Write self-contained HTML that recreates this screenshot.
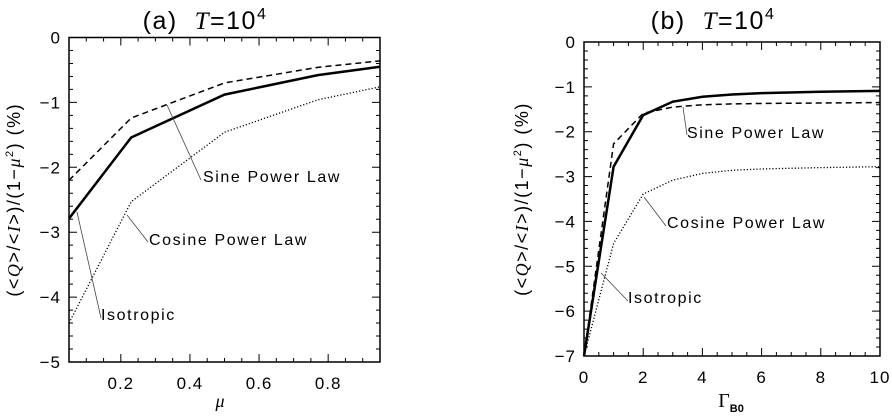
<!DOCTYPE html>
<html><head><meta charset="utf-8"><style>
html,body{margin:0;padding:0;background:#fff;}
svg{display:block;font-family:"Liberation Sans",sans-serif;}
</style></head><body>
<svg id="chart" width="892" height="416" viewBox="0 0 892 416"></svg>
<script>
// Panel (a) data
const muVals = [0.05, 0.23, 0.5, 0.77, 0.95];
const aSine = [-2.2, -1.24, -0.7, -0.46, -0.36];
const aIso = [-2.79, -1.54, -0.88, -0.58, -0.45];
const aCos = [-4.4, -2.53, -1.46, -0.96, -0.76];
const aXTicks = [0.2, 0.4, 0.6, 0.8];
const aYTicks = [0, -1, -2, -3, -4, -5];
// Panel (b) data
const gVals = [0, 1, 2, 3, 4, 5, 6, 8, 10];
const bSine = [-7, -2.27, -1.59, -1.45, -1.4, -1.38, -1.37, -1.36, -1.35];
const bIso = [-7, -2.78, -1.63, -1.33, -1.22, -1.17, -1.14, -1.11, -1.09];
const bCos = [-7, -4.49, -3.39, -3.08, -2.93, -2.86, -2.83, -2.8, -2.78];
const bXTicks = [0, 2, 4, 6, 8, 10];
const bYTicks = [0, -1, -2, -3, -4, -5, -6, -7];

const NS = "http://www.w3.org/2000/svg";
const svg = document.getElementById('chart');
function mk(tag, attrs, parent, text){
  const e = document.createElementNS(NS, tag);
  for (const k in attrs) e.setAttribute(k, attrs[k]);
  if (text !== undefined) e.textContent = text;
  (parent || svg).appendChild(e);
  return e;
}

function panel(cfg){
  const g = mk('g', {});
  
  
  const X = v => cfg.x0 + (v - cfg.xmin) / (cfg.xmax - cfg.xmin) * (cfg.x1 - cfg.x0);
  const Y = v => cfg.y0 + (cfg.ymax - v) / (cfg.ymax - cfg.ymin) * (cfg.y1 - cfg.y0);
  const frame = mk('rect', {x: cfg.x0, y: cfg.y0, width: cfg.x1 - cfg.x0, height: cfg.y1 - cfg.y0, fill: 'none', stroke: '#000', 'stroke-width': 1.5}, g);
  
  
  let xt = '';
  for (let v = cfg.xminorStart; v <= cfg.xmax + 1e-9; v += cfg.xminor) {
    const isMajor = Math.abs(Math.round(v / cfg.xmajor) * cfg.xmajor - v) < 1e-6;
    const L = isMajor ? 8 : 4, px = X(v);
    xt += `M${px},${cfg.y1}v${-L}M${px},${cfg.y0}v${L}`;
  }
  let yt = '';
  for (let v = cfg.ymin; v <= cfg.ymax + 1e-9; v += cfg.yminor) {
    const isMajor = Math.abs(Math.round(v) - v) < 1e-6;
    const L = isMajor ? 8 : 4, py = Y(v);
    yt += `M${cfg.x0},${py}h${L}M${cfg.x1},${py}h${-L}`;
  }
  const tk = mk('path', {d: xt + yt, stroke: '#000', 'stroke-width': 1, fill: 'none'}, g);
  
  
  cfg.xTicks.forEach(v => {
    const t = mk('text', {x: X(v), y: cfg.y1 + 27, 'text-anchor': 'middle', 'font-size': 17, 'letter-spacing': 1}, g, String(v));
    
    
  });
  cfg.yTicks.forEach(v => {
    const t = mk('text', {x: cfg.x0 - 8, y: Y(v) + 6, 'text-anchor': 'end', 'font-size': 17, 'letter-spacing': 1}, g, v === 0 ? '0' : '\u2212' + Math.abs(v));
    
    
  });
  const series = [
    {vals: cfg.sine, dash: '6,4', w: 1.5, n: 'sine-power-law-line'},
    {vals: cfg.iso, dash: '', w: 2.5, n: 'isotropic-line'},
    {vals: cfg.cos, dash: '1.2,2', w: 1.3, n: 'cosine-power-law-line'}
  ];
  series.forEach(s => {
    const pts = cfg.xs.map((x, i) => X(x) + ',' + Y(s.vals[i])).join(' ');
    const p = mk('polyline', {points: pts, fill: 'none', stroke: '#000', 'stroke-width': s.w, 'stroke-dasharray': s.dash}, g);
    
    
  });
  cfg.ann.forEach(a => {
    const l = mk('line', {x1: a.lx1, y1: a.ly1, x2: a.lx2, y2: a.ly2, stroke: '#444', 'stroke-width': 0.8}, g);
    
    
    const t = mk('text', {x: a.tx, y: a.ty, 'font-size': 16, 'letter-spacing': 1.6}, g, a.text);
    
    
  });
  const title = mk('text', {x: cfg.titleX, y: 29, 'text-anchor': 'middle', 'font-size': 25, 'letter-spacing': 1.5}, g);
  
  
  mk('tspan', {}, title, cfg.tag + '\u00a0\u00a0');
  mk('tspan', {'font-family': 'Liberation Serif, serif', 'font-style': 'italic'}, title, 'T');
  mk('tspan', {}, title, '=10');
  mk('tspan', {dy: -10, 'font-size': 16}, title, '4');
  const yl = mk('text', {transform: `translate(${cfg.ylabX},${(cfg.y0 + cfg.y1) / 2}) rotate(-90)`, 'text-anchor': 'middle', 'font-size': 18, 'letter-spacing': 1.5}, g);
  
  
  mk('tspan', {}, yl, '(<');
  mk('tspan', {'font-style': 'italic', 'font-family': 'Liberation Serif, serif'}, yl, 'Q');
  mk('tspan', {}, yl, '>/<');
  mk('tspan', {'font-style': 'italic', 'font-family': 'Liberation Serif, serif'}, yl, 'I');
  mk('tspan', {}, yl, '>)/(1\u2212');
  mk('tspan', {'font-style': 'italic', 'font-family': 'Liberation Serif, serif'}, yl, '\u03bc');
  mk('tspan', {dy: -7, 'font-size': 11}, yl, '2');
  mk('tspan', {dy: 7}, yl, ')\u00a0(%)');
  const xl = mk('text', {x: cfg.xlabX, y: 407, 'text-anchor': 'middle', 'font-size': 18}, g);
  
  
  if (cfg.tag === '(a)') {
    mk('tspan', {'font-style': 'italic', 'font-family': 'Liberation Serif, serif'}, xl, '\u03bc');
  } else {
    mk('tspan', {'font-family': 'Liberation Serif, serif', 'font-size': 20}, xl, '\u0393');
    mk('tspan', {dy: 5, 'font-size': 11, 'font-weight': 'bold'}, xl, 'B0');
  }
}

panel({name: 'panel-a', tag: '(a)', x0: 69, x1: 380, y0: 37.5, y1: 362,
  xmin: 0.05, xmax: 0.95, ymin: -5, ymax: 0, xmajor: 0.2, xminor: 0.05, xminorStart: 0.05, yminor: 0.2,
  xs: muVals, sine: aSine, iso: aIso, cos: aCos, xTicks: aXTicks, yTicks: aYTicks,
  titleX: 205, ylabX: 20, xlabX: 220,
  ann: [
    {text: 'Sine Power Law', tx: 203, ty: 182, lx1: 201, ly1: 180, lx2: 167, ly2: 105},
    {text: 'Cosine Power Law', tx: 149, ty: 245, lx1: 148, ly1: 242, lx2: 127, ly2: 215},
    {text: 'Isotropic', tx: 101, ty: 320, lx1: 101, ly1: 318, lx2: 77, ly2: 212}
  ]});
panel({name: 'panel-b', tag: '(b)', x0: 584, x1: 880, y0: 42, y1: 356,
  xmin: 0, xmax: 10, ymin: -7, ymax: 0, xmajor: 2, xminor: 0.5, xminorStart: 0, yminor: 0.2,
  xs: gVals, sine: bSine, iso: bIso, cos: bCos, xTicks: bXTicks, yTicks: bYTicks,
  titleX: 713, ylabX: 528, xlabX: 731,
  ann: [
    {text: 'Sine Power Law', tx: 687, ty: 138, lx1: 687, ly1: 135, lx2: 683, ly2: 107},
    {text: 'Cosine Power Law', tx: 667, ty: 228, lx1: 666, ly1: 226, lx2: 644, ly2: 197},
    {text: 'Isotropic', tx: 628, ty: 303, lx1: 628, ly1: 301, lx2: 601, ly2: 273}
  ]});
</script>
</body></html>
